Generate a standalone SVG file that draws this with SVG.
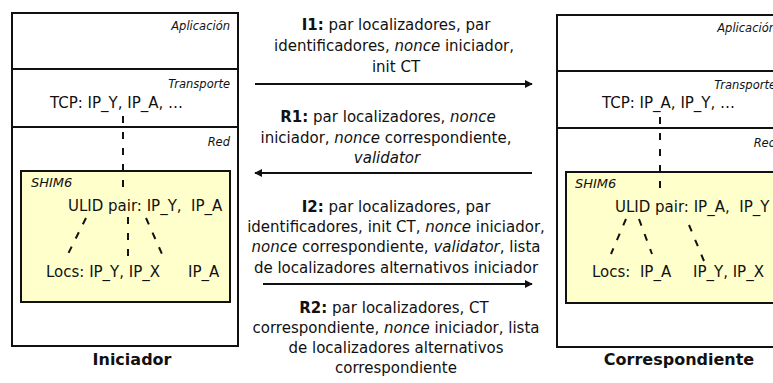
<svg xmlns="http://www.w3.org/2000/svg" width="773" height="383" viewBox="0 0 773 383">
<style>
text{font-family:'DejaVu Sans',Verdana,sans-serif;fill:#111}
.m{font-size:15px;text-anchor:middle}
.s{font-size:11.5px;font-style:italic;text-anchor:end}
.i{font-style:italic}
.b{font-weight:bold}
.t{font-size:15px}
.h{font-size:13px;font-style:italic}
.n{font-size:16px;font-weight:bold;text-anchor:middle}
.box{fill:#fff;stroke:#111;stroke-width:2}
.shim{fill:#ffffcc;stroke:#111;stroke-width:2}
.d{stroke:#111;stroke-width:2;stroke-dasharray:7 9;fill:none}
.a{stroke:#111;stroke-width:2;fill:none}
</style>
<defs>
<marker id="ah" viewBox="0 0 10 10" refX="9" refY="5" markerWidth="4" markerHeight="4" orient="auto-start-reverse" markerUnits="strokeWidth">
<path d="M0,0 L10,5 L0,10 z" fill="#111"/>
</marker>
</defs>
<g id="iniciador">
<rect class="box" x="12" y="13" width="226" height="333"/>
<line class="a" x1="12" y1="69" x2="238" y2="69"/>
<line class="a" x1="12" y1="127" x2="238" y2="127"/>
<text class="s" x="230" y="30">Aplicación</text>
<text class="s" x="230" y="88">Transporte</text>
<text class="t" x="50" y="108" font-size="16">TCP: IP_Y, IP_A, …</text>
<text class="s" x="230" y="146">Red</text>
<rect class="shim" x="21" y="171" width="209" height="131"/>
<text class="h" x="31" y="187">SHIM6</text>
<text class="t" x="68" y="211">ULID pair: IP_Y,&#160; IP_A</text>
<text class="t" x="46" y="277">Locs: IP_Y, IP_X</text>
<text class="t" x="188" y="277">IP_A</text>
<text class="n" x="132" y="365">Iniciador</text>
</g>
<g id="correspondiente">
<rect class="box" x="557" y="15" width="227" height="332"/>
<line class="a" x1="557" y1="71" x2="784" y2="71"/>
<line class="a" x1="557" y1="128" x2="784" y2="128"/>
<text class="s" x="776" y="32">Aplicación</text>
<text class="s" x="776" y="89">Transporte</text>
<text class="t" x="602" y="108" font-size="15.3">TCP: IP_A, IP_Y, …</text>
<text class="s" x="776" y="147">Red</text>
<rect class="shim" x="566" y="172" width="218" height="131"/>
<text class="h" x="575" y="188">SHIM6</text>
<text class="t" x="615" y="212">ULID pair: IP_A,&#160; IP_Y</text>
<text class="t" x="592" y="277">Locs:&#160; IP_A</text>
<text class="t" x="693" y="277">IP_Y, IP_X</text>
<text class="n" x="679" y="365">Correspondiente</text>
</g>
<g id="mensajes">
<text class="m" x="396" y="30"><tspan class="b">I1:</tspan> par localizadores, par</text>
<text class="m" x="394" y="51">identificadores, <tspan class="i">nonce</tspan> iniciador,</text>
<text class="m" x="396" y="72">init CT</text>
<text class="m" x="388" y="122"><tspan class="b">R1:</tspan> par localizadores, <tspan class="i">nonce</tspan></text>
<text class="m" x="386" y="143">iniciador, <tspan class="i">nonce</tspan> correspondiente,</text>
<text class="m i" x="387" y="163">validator</text>
<text class="m" x="396" y="212"><tspan class="b">I2:</tspan> par localizadores, par</text>
<text class="m" x="396" y="232">identificadores, init CT, <tspan class="i">nonce</tspan> iniciador,</text>
<text class="m" x="396" y="252"><tspan class="i">nonce</tspan> correspondiente, <tspan class="i">validator</tspan>, lista</text>
<text class="m" x="396" y="273">de localizadores alternativos iniciador</text>
<text class="m" x="394" y="313"><tspan class="b">R2:</tspan> par localizadores, CT</text>
<text class="m" x="396" y="333">correspondiente, <tspan class="i">nonce</tspan> iniciador, lista</text>
<text class="m" x="396" y="353">de localizadores alternativos</text>
<text class="m" x="396" y="373">correspondiente</text>
</g>
<g id="conectores">
<line class="a" x1="255" y1="84" x2="532" y2="84" marker-end="url(#ah)"/>
<line class="a" x1="532" y1="173" x2="255" y2="173" marker-end="url(#ah)"/>
<line class="a" x1="263" y1="284" x2="532" y2="284" marker-end="url(#ah)"/>
<line class="d" x1="123" y1="116" x2="123" y2="192"/>
<line class="d" x1="86" y1="218" x2="68" y2="254"/>
<line class="d" x1="128" y1="217" x2="128" y2="256"/>
<line class="d" x1="146" y1="218" x2="162" y2="254"/>
<line class="d" x1="660" y1="117" x2="660" y2="192"/>
<line class="d" x1="626" y1="219" x2="611" y2="254"/>
<line class="d" x1="639" y1="219" x2="652" y2="254"/>
<line class="d" x1="689" y1="225" x2="704" y2="261"/>
</g>
</svg>
